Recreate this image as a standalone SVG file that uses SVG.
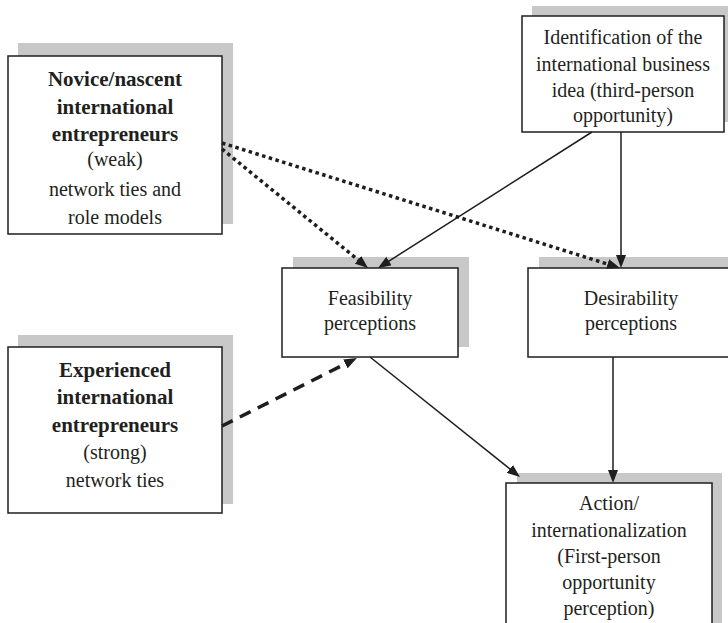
<svg xmlns="http://www.w3.org/2000/svg" width="728" height="623" viewBox="0 0 728 623">
  <style>
    .shadow { fill: #c8c8c8; }
    .box { fill: #ffffff; stroke: #1e1e1e; stroke-width: 1.5; }
    text { font-family: "Liberation Serif", "Times New Roman", serif; font-size: 20px; fill: #231f20; text-anchor: middle; }
    .b { font-weight: bold; font-size: 21px; }
    .solid { stroke: #1e1e1e; stroke-width: 1.5; fill: none; }
    .dotted { stroke: #1e1e1e; stroke-width: 3.5; stroke-dasharray: 3.5 3.5; fill: none; }
    .dashed { stroke: #1e1e1e; stroke-width: 3.5; stroke-dasharray: 12 8; fill: none; }
  </style>
  <defs>
    <marker id="head" markerUnits="userSpaceOnUse" markerWidth="13" markerHeight="10" refX="7" refY="5" orient="auto">
      <path d="M0,0 L13,5 L0,10 z" fill="#1e1e1e"/>
    </marker>
  </defs>
  <rect width="728" height="623" fill="#ffffff"/>

  <g id="novice">
    <rect class="shadow" x="18" y="43" width="215" height="181"/>
    <rect class="box" x="8" y="56" width="214" height="178"/>
    <text x="115" y="86" class="b">Novice/nascent</text>
    <text x="115" y="113.5" class="b">international</text>
    <text x="115" y="141" class="b">entrepreneurs</text>
    <text x="115" y="166">(weak)</text>
    <text x="115" y="196">network ties and</text>
    <text x="115" y="223.5">role models</text>
  </g>

  <g id="identification">
    <rect class="shadow" x="532" y="6" width="200" height="116"/>
    <rect class="box" x="522" y="16" width="202" height="116"/>
    <text x="623" y="44">Identification of the</text>
    <text x="623" y="70.5">international business</text>
    <text x="623" y="96.5">idea (third-person</text>
    <text x="623" y="122">opportunity)</text>
  </g>

  <g id="feasibility">
    <rect class="shadow" x="293" y="257" width="176" height="90"/>
    <rect class="box" x="282" y="268" width="176" height="89"/>
    <text x="370" y="305">Feasibility</text>
    <text x="370" y="330">perceptions</text>
  </g>

  <g id="desirability">
    <rect class="shadow" x="539" y="257" width="200" height="90"/>
    <rect class="box" x="528" y="268" width="210" height="89"/>
    <text x="631" y="305">Desirability</text>
    <text x="631" y="330">perceptions</text>
  </g>

  <g id="experienced">
    <rect class="shadow" x="18" y="335" width="215" height="169"/>
    <rect class="box" x="8" y="347" width="214" height="166"/>
    <text x="115" y="376.5" class="b">Experienced</text>
    <text x="115" y="404" class="b">international</text>
    <text x="115" y="431.5" class="b">entrepreneurs</text>
    <text x="115" y="459">(strong)</text>
    <text x="115" y="486.5">network ties</text>
  </g>

  <g id="action">
    <rect class="shadow" x="517" y="473" width="205" height="160"/>
    <rect class="box" x="506" y="483" width="206" height="150"/>
    <text x="609" y="510">Action/</text>
    <text x="609" y="536.5">internationalization</text>
    <text x="609" y="563">(First-person</text>
    <text x="609" y="589">opportunity</text>
    <text x="609" y="615">perception)</text>
  </g>

  <g id="connectors">
    <line class="dotted" x1="222" y1="149" x2="363.4" y2="264.2" marker-end="url(#head)"/>
    <line class="dotted" x1="222" y1="143" x2="614.3" y2="266.2" marker-end="url(#head)"/>
    <line class="solid" x1="592" y1="132" x2="383.1" y2="264.8" marker-end="url(#head)"/>
    <line class="solid" x1="621" y1="132" x2="621" y2="262" marker-end="url(#head)"/>
    <line class="dashed" x1="222" y1="426" x2="351.6" y2="360.7" marker-end="url(#head)"/>
    <line class="solid" x1="370" y1="357" x2="515.3" y2="473.3" marker-end="url(#head)"/>
    <line class="solid" x1="613" y1="357" x2="613" y2="477" marker-end="url(#head)"/>
  </g>
</svg>
